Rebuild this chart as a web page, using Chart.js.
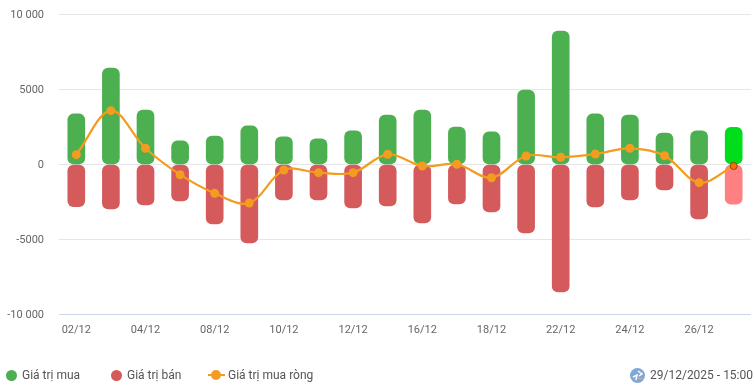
<!DOCTYPE html>
<html>
<head>
<meta charset="utf-8">
<script src="https://cdn.jsdelivr.net/npm/chart.js@4"></script>
<style>
    body { margin: 0; background: #fff; font-family: Roboto, sans-serif; }
    #wrap { position: relative; width: 754px; height: 389px; overflow: hidden; }
    #wrap canvas { position: absolute; left: 0; top: 0; }
    .legend { position: absolute; top: 367px; font-size: 12px; line-height: 16px; color: #555; white-space: nowrap; }
    .dot { position: absolute; top: 370px; width: 11px; height: 11px; border-radius: 50%; }
    .dash { position: absolute; top: 374px; left: 208px; width: 17px; height: 2px; background: #f39c1f; }
    .dash i { position: absolute; left: 3px; top: -4px; width: 10px; height: 10px; border-radius: 50%; background: #f39c1f; }
    #icon { position: absolute; left: 630px; top: 368px; }
</style>
</head>
<body>
<div id="wrap">
    <canvas id="chart" width="754" height="389"></canvas>
    <span class="dot" style="left:6px;background:#4caf50"></span>
    <span class="legend" style="left:22px">Giá trị mua</span>
    <span class="dot" style="left:111px;background:#d45a5c"></span>
    <span class="legend" style="left:127px">Giá trị bán</span>
    <span class="dash"><i></i></span>
    <span class="legend" style="left:228px">Giá trị mua ròng</span>
    <svg id="icon" width="15" height="15" viewBox="0 0 15 15">
        <circle cx="7.5" cy="7.5" r="7.5" fill="#7fa9d4"/>
        <path d="M3 9 L7 7 L6 12 M8 3 L12 6 L9 8" fill="none" stroke="#fff" stroke-width="1.5"/>
        <path d="M8 10 L12 11" fill="none" stroke="#e9a0a8" stroke-width="1.2"/>
    </svg>
    <span class="legend" style="left:650px">29/12/2025 - 15:00</span>
</div>
<script>
const categories = ["02/12", "03/12", "04/12", "05/12", "08/12", "09/12", "10/12", "11/12", "12/12", "15/12",
    "16/12", "17/12", "18/12", "19/12", "22/12", "23/12", "24/12", "25/12", "26/12", "29/12"];
const buyValues = [3370, 6430, 3630, 1570, 1900, 2570, 1840, 1710, 2240, 3300,
    3630, 2500, 2170, 4960, 8890, 3370, 3300, 2100, 2240, 2480];
const sellValues = [-2810, -2965, -2700, -2430, -3965, -5230, -2365, -2365, -2900, -2765,
    -3900, -2630, -3165, -4565, -8500, -2830, -2365, -1695, -3635, -2650];
const netValues = [655, 3590, 1080, -680, -1920, -2565, -365, -545, -545, 680,
    -100, 15, -880, 570, 480, 700, 1080, 590, -1210, -100];
const yTicks = [-10000, -5000, 0, 5000, 10000];

// Last session is drawn in its hover colours
const last = categories.length - 1;
const pick = (normal, active) => categories.map((c, i) => i === last ? active : normal);

// 10 000 gets a space, 5000 does not
const formatTick = v => Math.abs(v) >= 10000
    ? String(v).replace(/(\d{3})$/, " $1")
    : String(v);

new Chart(document.getElementById("chart"), {
    data: {
        labels: categories,
        datasets: [
            {
                type: "line",
                label: "Giá trị mua ròng",
                data: netValues,
                order: 0,
                borderColor: "#f39c1f",
                borderWidth: 2.2,
                tension: 0.35,
                pointRadius: pick(4.5, 3.5),
                pointBorderWidth: pick(0, 1),
                pointBorderColor: pick("#f39c1f", "#8a4a10"),
                pointBackgroundColor: pick("#f39c1f", "#ff6f00")
            },
            {
                type: "bar",
                label: "Giá trị mua",
                data: buyValues,
                order: 1,
                backgroundColor: pick("#4caf50", "#00dd1a"),
                barThickness: 17,
                borderRadius: 6,
                borderSkipped: false
            },
            {
                type: "bar",
                label: "Giá trị bán",
                data: sellValues,
                order: 1,
                backgroundColor: pick("#d45a5c", "#ff8080"),
                barThickness: 17,
                borderRadius: 6,
                borderSkipped: false
            }
        ]
    },
    options: {
        responsive: false,
        animation: false,
        // autoPadding would pull the plot in to make room for the line's points
        layout: { autoPadding: false, padding: { top: 14.5, right: 3, left: 0, bottom: 0 } },
        plugins: { legend: { display: false }, tooltip: { enabled: false } },
        scales: {
            x: {
                stacked: true,
                grid: { display: false },
                border: { display: false },
                afterFit: scale => {
                    scale.height = 74.5;
                    scale.paddingLeft = 0;
                    scale.paddingRight = 0;
                },
                ticks: {
                    autoSkip: false,
                    maxRotation: 0,
                    padding: 1,
                    color: "#666",
                    font: { family: "Roboto", size: 11 },
                    callback: (v, i) => i % 2 === 0 ? categories[i] : ""
                }
            },
            y: {
                min: -10000,
                max: 10000,
                afterFit: scale => {
                    scale.width = 59;
                    scale.paddingTop = 0;
                    scale.paddingBottom = 0;
                },
                afterBuildTicks: scale => { scale.ticks = yTicks.map(value => ({ value })); },
                grid: {
                    drawTicks: false,
                    lineWidth: 1,
                    color: ctx => ctx.tick && ctx.tick.value === -10000 ? "#ccd6eb" : "#e6e6e6"
                },
                border: { display: false },
                ticks: {
                    padding: 15,
                    labelOffset: 1,
                    color: "#666",
                    font: { family: "Roboto", size: 11 },
                    callback: formatTick
                }
            }
        }
    }
});
</script>
</body>
</html>
